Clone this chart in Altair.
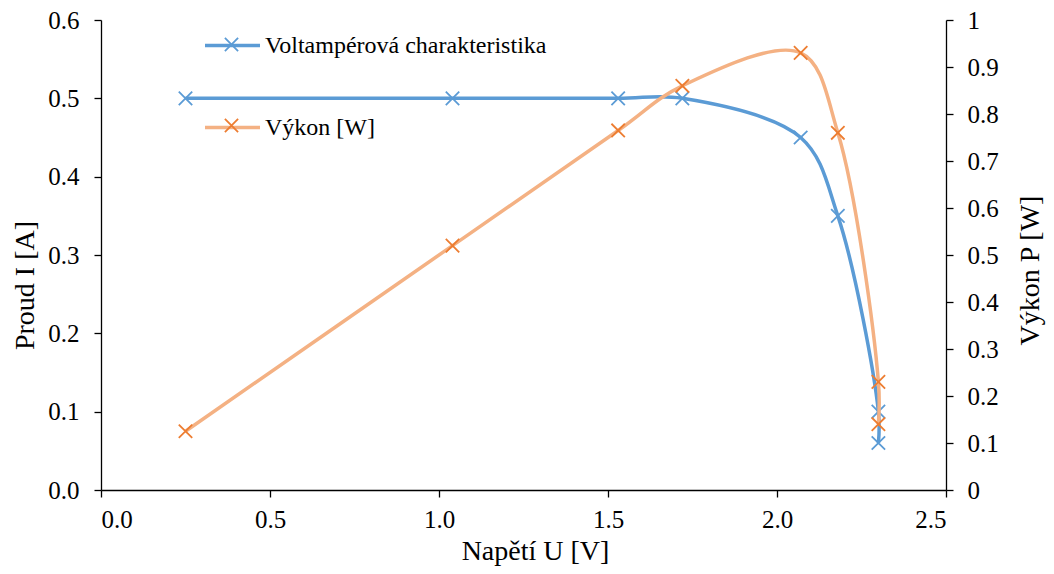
import altair as alt
import pandas as pd

# ---- data ----
voltage = [0.25, 1.04, 1.53, 1.72, 2.07, 2.18, 2.30, 2.30]
current = [0.50, 0.50, 0.50, 0.50, 0.45, 0.35, 0.10, 0.06]
power = [0.125, 0.52, 0.765, 0.86, 0.93, 0.76, 0.23, 0.14]
series_names = ["Voltampérová charakteristika", "Výkon [W]"]
marker_keys = ["m1", "m2"]
line_colors = ["#5B9BD5", "#F4B183"]
marker_colors = ["#5B9BD5", "#ED7D31"]
x_ticks = [0.0, 0.5, 1.0, 1.5, 2.0, 2.5]
left_ticks = [0.0, 0.1, 0.2, 0.3, 0.4, 0.5, 0.6]
right_ticks = [0.0, 0.1, 0.2, 0.3, 0.4, 0.5, 0.6, 0.7, 0.8, 0.9, 1.0]

FONT = "Liberation Serif"
XPATH = "M-1,-1L1,1M-1,1L1,-1"
XPATH_LEG = "M-0.24,-0.24L0.24,0.24M-0.24,0.24L0.24,-0.24"

df_i = pd.DataFrame({"U": voltage, "val": current, "series": series_names[0],
                     "mk": marker_keys[0], "idx": list(range(len(voltage)))})
df_p = pd.DataFrame({"U": voltage, "val": power, "series": series_names[1],
                     "mk": marker_keys[1], "idx": list(range(len(voltage)))})

x_enc = alt.X("U:Q", scale=alt.Scale(domain=[0, 2.5], nice=False, zero=False),
              axis=alt.Axis(values=x_ticks, format=".1f", title="Napětí U [V]",
                            titleX=434, titleY=61, titleBaseline="middle",
                            titleAnchor="middle", labelPadding=10))

stroke_enc = alt.Stroke("series:N",
    scale=alt.Scale(domain=series_names, range=line_colors),
    legend=alt.Legend(title=None, orient="none", legendX=102, legendY=-4,
                      direction="vertical", symbolType="stroke", symbolSize=3025,
                      symbolStrokeWidth=3.5, labelFont=FONT, labelFontSize=24,
                      labelColor="#000000", labelOffset=3, rowPadding=40,
                      padding=0, labelLimit=500))
color_enc = alt.Color("mk:N",
    scale=alt.Scale(domain=marker_keys, range=marker_colors),
    legend=alt.Legend(title=None, orient="none", legendX=102, legendY=-4,
                      direction="vertical", symbolType=XPATH_LEG, symbolSize=3025,
                      symbolStrokeWidth=1.8, labelFont=FONT, labelFontSize=24,
                      labelExpr="''", labelOffset=3, rowPadding=40,
                      padding=0))

y_left = alt.Y("val:Q", scale=alt.Scale(domain=[0, 0.6], nice=False),
               axis=alt.Axis(values=left_ticks, format=".1f", title="Proud I [A]",
                             orient="left", titleX=-76, titleY=265,
                             titleBaseline="middle", titleAngle=270,
                             labelPadding=15))
y_right = alt.Y("val:Q", scale=alt.Scale(domain=[0, 1], nice=False),
                axis=alt.Axis(values=right_ticks, format="~g", title="Výkon P [W]",
                              orient="right", titleX=84, titleY=250,
                              titleBaseline="middle", titleAngle=270,
                              labelPadding=14))

def series_layers(df, y_enc):
    base = alt.Chart(df)
    line = base.mark_line(interpolate="catmull-rom", strokeWidth=3.5).encode(
        x=x_enc, y=y_enc, stroke=stroke_enc, order="idx:Q")
    pts = base.mark_point(shape=XPATH, size=180, filled=False, strokeWidth=1.8,
                          opacity=1).encode(x=x_enc, y=y_enc, color=color_enc)
    return alt.layer(line, pts)

left = series_layers(df_i, y_left)
right = series_layers(df_p, y_right)

chart = alt.layer(left, right).resolve_scale(y="independent").properties(
    width=845, height=470,
    autosize=alt.AutoSizeParams(type="none"),
    padding={"left": 93, "top": 12, "right": 100, "bottom": 76},
).configure_view(stroke=None).configure_axis(
    grid=False, labelFont=FONT, titleFont=FONT, labelFontSize=25,
    titleFontSize=28, titleFontWeight="normal", labelColor="#000000",
    titleColor="#000000", domainColor="#000000", tickColor="#000000",
    domainWidth=1.3, tickWidth=1.3, tickSize=7,
).configure_legend(labelFont=FONT)

chart.save("out.html", embed_options={"renderer": "svg", "actions": False})
